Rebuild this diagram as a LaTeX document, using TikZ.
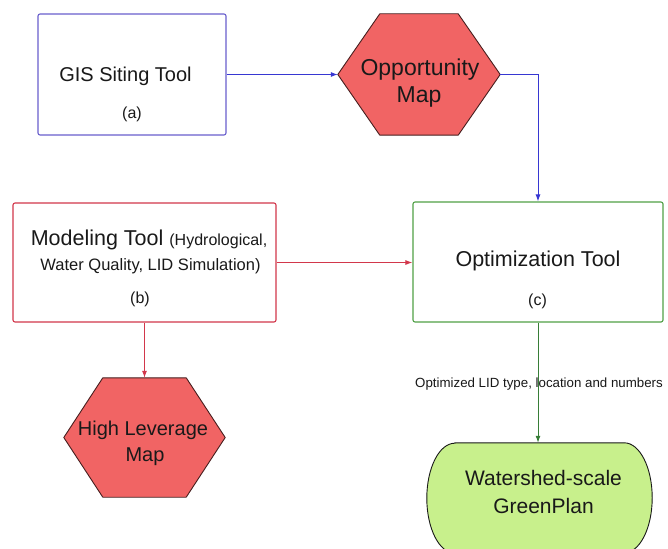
\documentclass[tikz,border=0pt]{standalone}
\usepackage{fontspec}
\setmainfont{Liberation Sans}
\usetikzlibrary{arrows.meta,calc,backgrounds}
\definecolor{gisblue}{RGB}{105,95,205}
\definecolor{arrblue}{RGB}{55,55,210}
\definecolor{modred}{RGB}{210,55,75}
\definecolor{optgreen}{RGB}{80,160,70}
\definecolor{arrgreen}{RGB}{55,125,55}
\definecolor{hexred}{RGB}{241,100,100}
\definecolor{hexline}{RGB}{70,30,30}
\definecolor{planfill}{RGB}{200,240,140}
\definecolor{txtc}{RGB}{25,25,25}
\newcommand\fsz[2]{\fontsize{#1}{#2}\selectfont}
\tikzset{
  boxnode/.style={draw, rounded corners=2pt, line width=1.1pt, inner sep=0pt},
  shapenode/.style={inner sep=0pt},
  hexdraw/.style={draw=hexline, fill=hexred, line width=0.9pt, line join=round},
  plandraw/.style={draw=txtc, fill=planfill, line width=0.9pt},
  txt/.style={inner sep=0pt, anchor=base, text=txtc},
  conn/.style={line width=1pt, -{Latex[length=7pt,width=5pt]}},
}
\begin{document}
\begin{tikzpicture}[x=1pt,y=-1pt]
\useasboundingbox (0,0) rectangle (668,548);
\fill[white] (0,0) rectangle (668,548);

% boxes
\node[boxnode, draw=gisblue, minimum width=188pt, minimum height=121pt] (gis) at (132,74.5) {};
\node[boxnode, draw=modred, minimum width=263pt, minimum height=119pt] (mod) at (144.5,262.5) {};
\node[boxnode, draw=optgreen, minimum width=250pt, minimum height=120pt] (opt) at (538,262) {};

% hexagons
\node[shapenode, minimum width=162pt, minimum height=121pt] (opp) at (419,74.5) {};
\draw[hexdraw] (opp.west) -- ([xshift=42pt]opp.north west) -- ([xshift=-42pt]opp.north east)
  -- (opp.east) -- ([xshift=-42pt]opp.south east) -- ([xshift=42pt]opp.south west) -- cycle;
\node[shapenode, minimum width=161pt, minimum height=119pt] (hl) at (144.5,437.5) {};
\draw[hexdraw] (hl.west) -- ([xshift=39pt]hl.north west) -- ([xshift=-39pt]hl.north east)
  -- (hl.east) -- ([xshift=-39pt]hl.south east) -- ([xshift=39pt]hl.south west) -- cycle;

% stadium
\node[shapenode, minimum width=225pt, minimum height=110pt] (ws) at (539.5,498) {};
\draw[plandraw] ([xshift=28pt]ws.north west) -- ([xshift=-28pt]ws.north east)
  arc[start angle=90, end angle=-90, x radius=28pt, y radius=55pt]
  -- ([xshift=28pt]ws.south west)
  arc[start angle=270, end angle=90, x radius=28pt, y radius=55pt] -- cycle;

% texts
\node[txt, font=\fsz{20}{24}] (gist) at (125.5,82) {GIS Siting Tool};
\node[txt, font=\fsz{16}{19}] (gisa) at (132,118.5) {(a)};
\node[txt, font=\fsz{23}{27}] (opp1) at (420,76) {Opportunity};
\node[txt, font=\fsz{23}{27}] (opp2) at (419,103) {Map};
\node[txt, font=\fsz{21.5}{25}] (mod1) at (149,245) {Modeling Tool {\fsz{16}{19}(Hydrological,}};
\node[txt, font=\fsz{16.5}{20}] (mod2) at (150.5,270) {Water Quality, LID Simulation)};
\node[txt, font=\fsz{16}{19}] (modb) at (140,303.5) {(b)};
\node[txt, font=\fsz{21.5}{25}] (opt1) at (538,266) {Optimization Tool};
\node[txt, font=\fsz{16}{19}] (optc) at (537.5,305) {(c)};
\node[txt, font=\fsz{21}{25}] (ws1) at (543.5,485) {Watershed-scale};
\node[txt, font=\fsz{21}{25}] (ws2) at (543.5,513) {GreenPlan};
\node[txt, font=\fsz{20}{24}] (hl1) at (143,435) {High Leverage};
\node[txt, font=\fsz{20}{24}] (hl2) at (145,461) {Map};

% connectors
\draw[conn, draw=arrblue] (gis.east) -- (opp.west);
\draw[conn, draw=arrblue] (opp.east) -| (opt.north);
\draw[conn, draw=modred] (mod.east) -- (mod.east -| opt.west);
\draw[conn, draw=modred] (mod.south) -- (hl.north);
\draw[conn, draw=arrgreen] (opt.south) -- (opt.south |- ws.north);
\node[txt, font=\fsz{13.3}{16}] (lbl) at (539,387) {Optimized LID type, location and numbers};
\end{tikzpicture}
\end{document}
